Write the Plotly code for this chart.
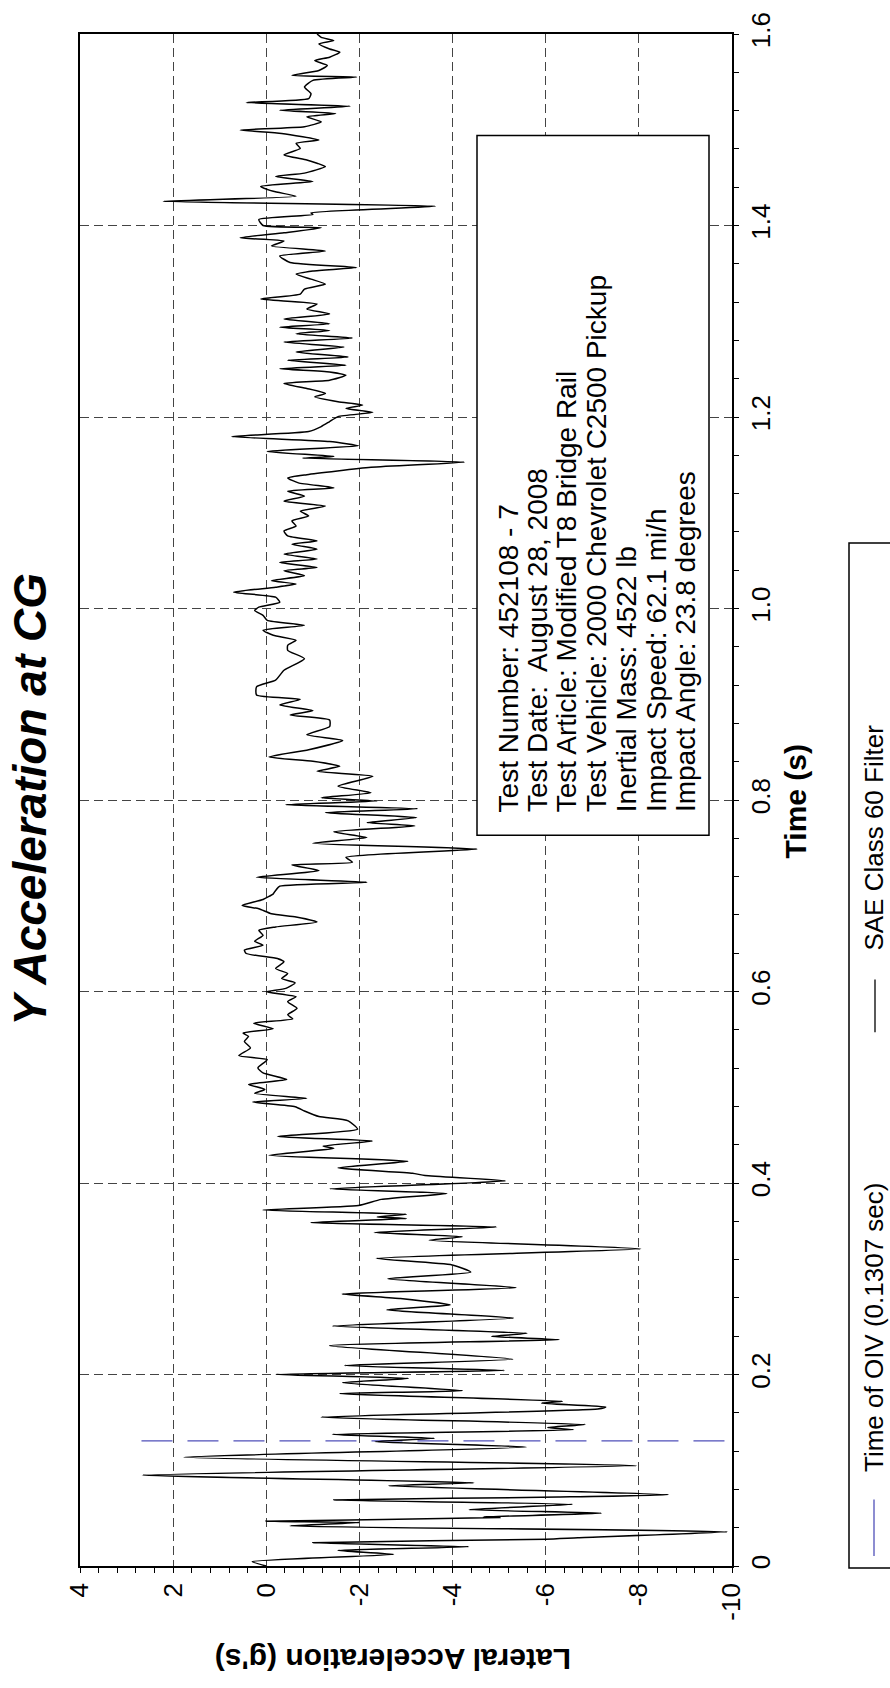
import plotly.graph_objects as go

# ---------------- data ----------------
t_seg1 = [0.0, 0.0046, 0.0122, 0.0163, 0.0201, 0.0243, 0.0280, 0.0295, 0.0357, 0.0419, 0.0455, 0.0468,
          0.0506, 0.0513, 0.0551, 0.0589, 0.0644, 0.0689, 0.0720, 0.0745, 0.0838, 0.0869, 0.0949, 0.1049,
          0.1136, 0.1243, 0.1298, 0.1333, 0.1374, 0.1423, 0.1447, 0.1478, 0.1554, 0.1640, 0.1661, 0.1700,
          0.1720, 0.1800, 0.1831, 0.1914, 0.1959, 0.2001, 0.2042, 0.2094, 0.2160, 0.2301, 0.2364, 0.2398,
          0.2430, 0.2506, 0.2589, 0.2675, 0.2727, 0.2793, 0.2841, 0.2907, 0.3000, 0.3070]
a_seg1 = [0.0, 0.3, -2.74, -1.54, -4.35, -1.0, -6.0, -6.69, -9.9, -0.51, -2.0, 0.01,
          -5.02, -4.66, -7.19, -4.35, -6.58, -1.45, -6.27, -8.63, -2.63, -4.46, 2.66, -7.95,
          1.77, -5.58, -2.34, -3.61, -1.42, -6.60, -6.04, -6.85, -1.18, -7.12, -7.29, -5.91,
          -6.36, -1.58, -4.21, -1.64, -3.05, -0.21, -5.11, -1.68, -5.29, -1.36, -6.29, -4.84,
          -5.60, -1.42, -5.31, -2.59, -3.95, -2.88, -1.63, -5.36, -2.61, -4.39]

t_seg2 = [0.3144, 0.3213, 0.3313, 0.3403, 0.3438, 0.3483, 0.3541, 0.3586, 0.3628, 0.3645, 0.3673, 0.3718,
          0.3766, 0.3829, 0.3891, 0.3939, 0.4022, 0.4078, 0.4102, 0.4157, 0.4227, 0.4289, 0.4361, 0.4386,
          0.4438, 0.4486, 0.4562, 0.4649, 0.4694, 0.4752, 0.4797, 0.4846, 0.4884, 0.4936, 0.4977, 0.5029,
          0.5081, 0.5150, 0.5202, 0.5289, 0.5330, 0.5410, 0.5479, 0.5531, 0.5566, 0.5611, 0.5669, 0.5714,
          0.5756, 0.5825, 0.5894, 0.5946, 0.5998, 0.6033, 0.6091, 0.6136, 0.6188, 0.6240, 0.6309]
a_seg2 = [-3.99, -2.36, -8.04, -3.5, -4.21, -2.32, -4.95, -0.96, -3.01, -2.38, -3.01, 0.07,
          -1.98, -2.47, -3.88, -1.36, -5.13, -3.41, -3.14, -1.54, -3.04, -0.06, -1.45, -1.22,
          -2.28, -0.24, -1.96, -1.76, -1.13, -0.82, -0.62, 0.29, -0.87, 0.25, 0.03, 0.38,
          -0.44, 0.07, 0.18, -0.02, 0.59, 0.34, 0.47, 0.38, 0.5, -0.15, 0.27, -0.57,
          -0.46, -0.66, -0.46, -0.64, 0.0, -0.42, -0.62, -0.33, -0.46, -0.2, -0.38]

t_seg3 = [0.6344, 0.6397, 0.6432, 0.6484, 0.6525, 0.6587, 0.6639, 0.6674, 0.6726, 0.6778, 0.6812, 0.6864,
          0.6899, 0.6961, 0.7020, 0.7055, 0.7100, 0.7141, 0.7193, 0.7262, 0.7321, 0.7349, 0.7401, 0.7487,
          0.7549, 0.7608, 0.7667, 0.7729, 0.7764, 0.7816, 0.7868, 0.7909, 0.7951, 0.7989, 0.8023, 0.8075,
          0.8144, 0.8248, 0.8300, 0.8352, 0.8404, 0.8449, 0.8525, 0.8622, 0.8681, 0.8767, 0.8836, 0.8888,
          0.8933, 0.8992, 0.9051, 0.9096, 0.9182, 0.9252, 0.9355, 0.9476]
a_seg3 = [-0.24, 0.43, 0.47, 0.07, 0.25, 0.07, 0.16, -0.2, -1.09, -0.64, -0.11, 0.16,
          0.52, 0.07, -0.15, -0.2, -0.29, -2.16, 0.21, -1.13, -0.55, -1.85, -1.71, -4.53,
          -1.0, -2.16, -1.45, -3.19, -2.16, -3.23, -1.27, -3.25, -0.42, -2.38, -1.18, -2.25,
          -1.54, -2.29, -1.09, -1.58, -1.0, -0.06, -0.91, -1.64, -0.87, -1.36, -1.36, -0.51,
          -1.0, -0.29, -0.73, 0.21, 0.21, -0.2, -0.38, -0.82]

t_seg4 = [0.9563, 0.9616, 0.9668, 0.9720, 0.9772, 0.9824, 0.9876, 0.9928, 0.9979, 1.0014, 1.0066, 1.0118,
          1.0170, 1.0222, 1.0256, 1.0291, 1.0343, 1.0395, 1.0429, 1.0481, 1.0516, 1.0568, 1.0620, 1.0671,
          1.0706, 1.0758, 1.0810, 1.0862, 1.0914, 1.0966, 1.1017, 1.1069, 1.1121, 1.1173, 1.1225, 1.1260,
          1.1312, 1.1363, 1.1398, 1.1474, 1.1529, 1.1571, 1.1588, 1.1640, 1.1699, 1.1744, 1.1796, 1.1848,
          1.1900, 1.1952, 1.2004, 1.2049, 1.2090, 1.2125, 1.2159, 1.2211, 1.2246, 1.2298, 1.2350, 1.2384,
          1.2436, 1.2471, 1.2505, 1.2540, 1.2592, 1.2626, 1.2678, 1.2730]
a_seg4 = [-0.46, -0.46, -0.64, -0.15, 0.07, -0.82, -0.02, 0.07, 0.25, 0.16, -0.29, -0.2,
          0.7, -0.2, -0.64, -0.11, -0.82, -0.38, -1.09, -0.29, -1.09, -0.38, -1.09, -0.55,
          -1.09, -0.46, -0.38, -0.64, -0.55, -0.91, -0.73, -1.27, -0.38, -0.82, -0.46, -1.45,
          -0.69, -0.46, -0.87, -2.25, -4.26, -0.78, -1.45, -0.02, -1.98, -1.36, 0.74, -0.91,
          -1.18, -1.36, -1.54, -2.29, -1.71, -2.07, -1.54, -1.04, -1.27, -0.87, -0.38, -1.36,
          -1.71, -1.36, -0.29, -1.71, -0.46, -1.76, -0.64, -1.67]

t_seg5 = [1.2782, 1.2824, 1.2869, 1.2903, 1.2938, 1.2973, 1.3024, 1.3076, 1.3128, 1.3180, 1.3232, 1.3284,
          1.3336, 1.3388, 1.3440, 1.3492, 1.3526, 1.3561, 1.3613, 1.3682, 1.3734, 1.3786, 1.3838, 1.3872,
          1.3924, 1.3976, 1.4000, 1.4062, 1.4114, 1.4132, 1.4201, 1.4253, 1.4305, 1.4357, 1.4408, 1.4460,
          1.4512, 1.4547, 1.4616, 1.4651, 1.4685, 1.4737, 1.4806, 1.4858, 1.4893, 1.4962, 1.4997, 1.5031,
          1.5083, 1.5135, 1.5170, 1.5204, 1.5246, 1.5284, 1.5325, 1.5377, 1.5446, 1.5516, 1.5550, 1.5567,
          1.5619, 1.5671, 1.5723, 1.5758, 1.5810, 1.5844, 1.5896, 1.5931, 1.5965, 1.6000]
a_seg5 = [-0.38, -1.85, -0.64, -1.36, -0.29, -1.36, -0.38, -1.36, -0.87, -1.09, 0.12, -0.73,
          -0.82, -1.27, -0.96, -0.64, -1.0, -1.94, -0.51, -0.29, -1.27, -0.11, -0.38, 0.56,
          -0.38, -1.18, 0.07, 0.16, -1.0, -0.96, -3.63, 2.21, -0.64, -0.15, 0.12, -1.0,
          -0.2, -0.82, -1.27, -1.09, -0.87, -0.38, -0.73, -0.64, -1.13, -0.33, 0.56, -0.82,
          -1.18, -0.87, -1.49, -0.29, -1.8, 0.43, -0.91, -0.96, -0.82, -1.0, -1.94, -0.55,
          -1.13, -1.31, -1.04, -1.36, -1.58, -1.36, -1.13, -1.45, -1.18, -1.09]

oiv_time = 0.1307
oiv_accel_span = [2.68, -9.9]

time_ticks = [0, 0.2, 0.4, 0.6, 0.8, 1.0, 1.2, 1.4, 1.6]
time_tick_labels = ["0", "0.2", "0.4", "0.6", "0.8", "1.0", "1.2", "1.4", "1.6"]
accel_ticks = [4, 2, 0, -2, -4, -6, -8, -10]
accel_tick_labels = ["4", "2", "0", "-2", "-4", "-6", "-8", "-10"]

info_lines = ["Test Number: 452108 - 7",
              "Test Date:  August 28, 2008",
              "Test Article: Modified T8 Bridge Rail",
              "Test Vehicle: 2000 Chevrolet C2500 Pickup",
              "Inertial Mass: 4522 lb",
              "Impact Speed: 62.1 mi/h",
              "Impact Angle: 23.8 degrees"]
legend_labels = ["Time of OIV (0.1307 sec)", "SAE Class 60 Filter"]
title_text = "Y Acceleration at CG"
time_title = "Time (s)"
accel_title = "Lateral Acceleration (g's)"

# ---------------- layout geometry (pixels) ----------------
W, H = 890, 1688
PL, PR, PT, PB = 80, 732, 25, 1566
FONT = "Liberation Sans, Arial, sans-serif"


def px(xp):
    return (xp - PL) / (PR - PL)


def py(yp):
    return (PB - yp) / (PB - PT)


time_all = t_seg1 + t_seg2 + t_seg3 + t_seg4 + t_seg5
accel_all = a_seg1 + a_seg2 + a_seg3 + a_seg4 + a_seg5

fig = go.Figure()
fig.add_trace(go.Scatter(x=oiv_accel_span, y=[oiv_time, oiv_time], mode="lines",
                         line=dict(color="rgb(80,80,185)", width=1.3, dash="31px,15px"),
                         hoverinfo="skip", showlegend=False))
fig.add_trace(go.Scatter(x=accel_all, y=time_all, mode="lines",
                         line=dict(color="black", width=1.5, shape="spline", smoothing=0.5),
                         showlegend=False))

axis_common = dict(showline=True, linecolor="black", linewidth=1.5, mirror=True,
                   ticks="outside", ticklen=5, tickcolor="black", tickwidth=1,
                   showgrid=True, gridcolor="#444", gridwidth=1, griddash="9px,5px",
                   zeroline=False, tickfont=dict(family=FONT, size=26, color="black"),
                   tickangle=-90)

fig.update_layout(
    width=W, height=H, autosize=False,
    margin=dict(l=PL, r=W - PR, t=PT, b=H - PB, pad=0),
    paper_bgcolor="white", plot_bgcolor="white",
    xaxis=dict(range=[4, -10], tickmode="array", tickvals=accel_ticks, ticktext=accel_tick_labels,
               minor=dict(dtick=0.4, tick0=0, ticks="outside", ticklen=5, tickcolor="black",
                          showgrid=False),
               **axis_common),
    yaxis=dict(range=[0, 1.6], side="right", tickmode="array", tickvals=time_ticks,
               ticktext=time_tick_labels,
               minor=dict(dtick=0.04, tick0=0, ticks="outside", ticklen=5, tickcolor="black",
                          showgrid=False),
               **axis_common),
)

ann = []
# chart title and axis titles
ann.append(dict(text="<b><i>" + title_text + "</i></b>", x=px(30), y=py(795), xref="paper", yref="paper",
                showarrow=False, textangle=-90, xanchor="center", yanchor="middle",
                font=dict(family=FONT, size=46, color="black")))
ann.append(dict(text="<b>" + time_title + "</b>", x=px(795), y=py(797), xref="paper", yref="paper",
                showarrow=False, textangle=-90, xanchor="center", yanchor="middle",
                font=dict(family=FONT, size=30, color="black")))
ann.append(dict(text="<b>" + accel_title + "</b>", x=px(393), y=py(1660), xref="paper", yref="paper",
                showarrow=False, textangle=180, xanchor="center", yanchor="middle",
                font=dict(family=FONT, size=30, color="black")))

# info box text
for i, line in enumerate(info_lines):
    ann.append(dict(text=line, x=px(508 + 29.7 * i), y=py(810), xref="paper", yref="paper",
                    showarrow=False, textangle=-90, xanchor="center", yanchor="bottom", align="left",
                    font=dict(family=FONT, size=28, color="black")))

# legend text
ann.append(dict(text=legend_labels[0], x=px(874), y=py(1474), xref="paper", yref="paper",
                showarrow=False, textangle=-90, xanchor="center", yanchor="bottom",
                font=dict(family=FONT, size=26, color="black")))
ann.append(dict(text=legend_labels[1], x=px(874), y=py(949), xref="paper", yref="paper",
                showarrow=False, textangle=-90, xanchor="center", yanchor="bottom",
                font=dict(family=FONT, size=26, color="black")))
fig.update_layout(annotations=ann)

shapes = []
# info box
shapes.append(dict(type="rect", xref="paper", yref="paper", x0=px(477), x1=px(709), y0=py(831), y1=py(127),
                   line=dict(color="black", width=1.5), fillcolor="white", layer="above"))
# legend box
shapes.append(dict(type="rect", xref="paper", yref="paper", x0=px(849), x1=px(900), y0=py(1568), y1=py(537),
                   line=dict(color="black", width=1.5), fillcolor="rgba(0,0,0,0)", layer="above"))
# legend line symbols
shapes.append(dict(type="line", xref="paper", yref="paper", x0=px(874), x1=px(874), y0=py(1556), y1=py(1499),
                   line=dict(color="rgb(80,80,185)", width=1.3)))
shapes.append(dict(type="line", xref="paper", yref="paper", x0=px(875), x1=px(875), y0=py(1029), y1=py(976),
                   line=dict(color="black", width=1.3)))
fig.update_layout(shapes=shapes)

fig.write_html("out.html", config={"displayModeBar": False},
               post_script="document.body.style.margin='0';")
